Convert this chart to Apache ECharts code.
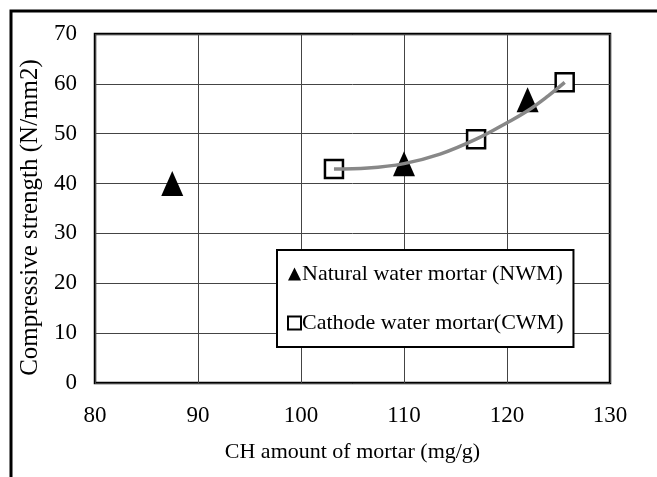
<!DOCTYPE html>
<html>
<head>
<meta charset="utf-8"/>
<title>Compressive strength vs CH amount</title>
<script src="https://cdn.jsdelivr.net/npm/echarts@6/dist/echarts.min.js"></script>
<style>
	html, body { margin: 0; padding: 0; background: #fff; }
	#chart { width: 657px; height: 477px; }
</style>
</head>
<body>
<div id="chart"></div>
<script type="text/javascript">
	// natural water mortar (NWM)
	var nwmX = [87.5, 110, 122];
	var nwmY = [40, 44, 56.8];
	// cathode water mortar (CWM)
	var cwmX = [103.2, 117, 125.6];
	var cwmY = [42.9, 48.9, 60.3];
	// gray trend curve
	var trendX = [103.2, 106.5, 110, 113.5, 117, 120, 122, 124, 125.6];
	var trendY = [42.9, 43.1, 44.0, 45.9, 48.9, 52.2, 54.6, 57.6, 60.3];
	var xTicks = [80, 90, 100, 110, 120, 130];
	var yTicks = [0, 10, 20, 30, 40, 50, 60, 70];

	function pairs(xs, ys) {
		return xs.map(function (x, i) { return [x, ys[i]]; });
	}

	var font = 'Liberation Serif';
	var chart = echarts.init(document.getElementById('chart'));
	var option = {
		backgroundColor: '#fff',
		animation: false,
		textStyle: { fontFamily: font, color: '#000' },
		graphic: [{
			type: 'rect',
			shape: { x: 11, y: 11, width: 700, height: 520 },
			style: { fill: 'none', stroke: '#000', lineWidth: 3 },
			silent: true
		}],
		grid: {
			left: 95, top: 34, right: 47, bottom: 94,
			show: true, borderColor: '#000', borderWidth: 2.5,
			backgroundColor: 'transparent'
		},
		legend: {
			orient: 'vertical',
			left: 277, top: 250,
			padding: [13, 10, 13, 10],
			itemGap: 27,
			itemWidth: 13, itemHeight: 13,
			backgroundColor: '#fff',
			borderColor: '#000', borderWidth: 2,
			textStyle: { fontFamily: font, fontSize: 22, color: '#000', padding: [0, 0, 0, -4] },
			data: ['Natural water mortar (NWM)', 'Cathode water mortar(CWM)']
		},
		xAxis: {
			type: 'value',
			min: xTicks[0], max: xTicks[xTicks.length - 1], interval: 10,
			name: 'CH amount of mortar (mg/g)',
			nameLocation: 'middle', nameGap: 58,
			nameTextStyle: { fontFamily: font, fontSize: 22, color: '#000' },
			axisLine: { show: false },
			axisTick: { show: false },
			axisLabel: { fontFamily: font, fontSize: 23, color: '#000', margin: 21 },
			splitLine: { show: true, lineStyle: { color: '#444', width: 1 } }
		},
		yAxis: {
			type: 'value',
			min: yTicks[0], max: yTicks[yTicks.length - 1], interval: 10,
			name: 'Compressive strength (N/mm2)',
			nameLocation: 'middle', nameGap: 46,
			nameTextStyle: { fontFamily: font, fontSize: 25, color: '#000', padding: [0, 18, 0, 0] },
			axisLine: { show: false },
			axisTick: { show: false },
			axisLabel: { fontFamily: font, fontSize: 23, color: '#000', margin: 18 },
			splitLine: { show: true, lineStyle: { color: '#444', width: 1 } }
		},
		series: [
			{
				name: 'Natural water mortar (NWM)',
				type: 'scatter',
				symbol: 'triangle',
				symbolSize: [22, 25],
				itemStyle: { color: '#000', opacity: 1 },
				z: 3,
				data: pairs(nwmX, nwmY)
			},
			{
				name: 'Cathode water mortar(CWM)',
				type: 'scatter',
				symbol: 'rect',
				symbolSize: 18,
				itemStyle: { color: '#fff', borderColor: '#000', borderWidth: 2.5, opacity: 1 },
				z: 3,
				data: pairs(cwmX, cwmY)
			},
			{
				name: 'trend',
				type: 'line',
				smooth: 0.4,
				showSymbol: false,
				lineStyle: { color: '#888', width: 3.5 },
				z: 4,
				data: pairs(trendX, trendY)
			}
		]
	};
	chart.setOption(option);
</script>
</body>
</html>
